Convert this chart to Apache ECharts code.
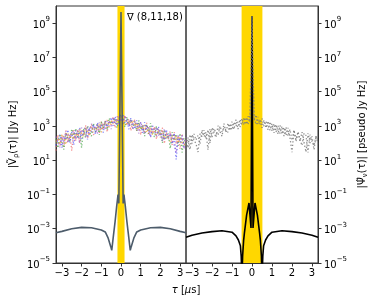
<!DOCTYPE html>
<html><head><meta charset="utf-8">
<script src="https://cdn.jsdelivr.net/npm/echarts@6/dist/echarts.min.js"></script>
<style>html,body{margin:0;padding:0;background:#fff}#c{width:374px;height:299px}</style>
</head><body><div id="c"></div>
<script>
// ---- data ----
const xTicks = [-3, -2, -1, 0, 1, 2, 3];
const yTickExp = [-5, -3, -1, 1, 3, 5, 7, 9];
const bandLeft = [-0.18, 0.18];
const bandRight = [-0.52, 0.52];
const annotation = '\u2207 (8,11,18)';

// left solid model line (Jy Hz)
const tauModelL = [-3.3,-3.0,-2.5,-2.0,-1.5,-1.0,-0.8,-0.65,-0.52,-0.47,-0.39,-0.3,-0.22,-0.15,-0.11,0,0.11,0.15,0.22,0.3,0.39,0.47,0.52,0.65,0.8,1.0,1.5,2.0,2.5,3.0,3.3];
const valModelL = [5.8e-4,7e-4,1e-3,1.2e-3,1.15e-3,8.5e-4,6.5e-4,2.8e-4,9e-5,5.5e-5,3.5e-4,2.6e-3,2e-2,1e-1,3e-2,4.5e9,3e-2,1e-1,2e-2,2.6e-3,3.5e-4,5.5e-5,9e-5,2.8e-4,6.5e-4,8.5e-4,1.15e-3,1.2e-3,1e-3,7e-4,5.8e-4];

// right solid model line (pseudo Jy Hz)
const tauModelR = [-3.3,-3.0,-2.5,-2.0,-1.5,-1.0,-0.8,-0.68,-0.58,-0.54,-0.5,-0.47,-0.42,-0.38,-0.27,-0.15,-0.1,-0.05,0,0.05,0.1,0.15,0.27,0.38,0.42,0.47,0.5,0.54,0.58,0.68,0.8,1.0,1.5,2.0,2.5,3.0,3.3];
const valModelR = [3.2e-4,4.2e-4,5.6e-4,6.8e-4,7.6e-4,6.3e-4,3.8e-4,2.2e-4,1e-4,2.5e-5,1e-6,2.5e-5,2e-4,5.5e-4,6.3e-3,3.2e-2,6e-3,1.1e-3,2.5e9,1.1e-3,6e-3,3.2e-2,6.3e-3,5.5e-4,2e-4,2.5e-5,1e-6,2.5e-5,1e-4,2.2e-4,3.8e-4,6.3e-4,7.6e-4,6.8e-4,5.6e-4,4.2e-4,3.2e-4];

// delay grid of the noisy visibilities
const tauNoise = [
-3.3,-3.2,-3.1,-3.0,-2.9,-2.8,-2.7,-2.6,-2.5,-2.4,
-2.3,-2.2,-2.1,-2.0,-1.9,-1.8,-1.7,-1.6,-1.5,-1.4,
-1.3,-1.2,-1.1,-1.0,-0.9,-0.8,-0.7,-0.6,-0.5,-0.4,
-0.3,-0.2,-0.1,0,0.1,0.2,0.3,0.4,0.5,0.6,
0.7,0.8,0.9,1.0,1.1,1.2,1.3,1.4,1.5,1.6,
1.7,1.8,1.9,2.0,2.1,2.2,2.3,2.4,2.5,2.6,
2.7,2.8,2.9,3.0,3.1,3.2,3.3];

const visRed = [
36,325,70,280,60,555,120,330,36,570,
140,620,100,540,315,1075,185,610,1230,300,
400,1300,390,1870,640,2000,440,2040,1170,3550,
775,2720,4070,3000,1110,4250,1085,2560,520,1680,
2200,500,1560,300,1090,430,1520,300,840,360,
930,170,710,215,800,93,430,210,480,77,
440,92,255,46,350,78,144];
const visGreen = [
180,52,336,108,42,370,200,110,670,210,
710,186,470,54,710,215,1020,460,250,1440,
460,1150,310,1790,740,1900,600,2880,1300,2130,
2790,765,2400,4800,2960,850,3400,1140,2470,720,
1760,500,2100,600,1010,250,1250,360,1460,410,
230,950,320,580,100,590,170,360,48,440,
140,333,68,370,28,195,72];
const visBlue = [
72,170,310,54,255,150,600,110,430,78,
540,220,800,180,475,860,163,870,450,1260,
330,1580,700,1190,410,2100,880,1560,3120,1000,
3560,1020,3150,2200,4800,1530,2330,640,2860,1440,
660,2100,740,1530,390,1660,600,960,220,1020,
650,260,900,250,500,155,600,210,380,88,
380,11,200,140,280,65,48];
const visPurple = [
240,117,56,250,120,480,100,265,215,520,
170,500,100,790,395,215,880,357,1340,660,
990,360,1560,680,1470,600,2090,1320,650,3270,
1240,3570,1110,3400,1670,3900,1860,1000,2470,600,
1980,1200,370,1700,780,360,1120,540,225,970,
420,860,280,470,135,680,285,155,360,200,
160,28,320,110,210,45,215];
const visOrange = [
120,220,84,325,205,83,380,175,335,155,
370,250,670,360,237,775,510,255,900,540,
790,575,1400,425,1290,1000,2200,840,1950,1280,
2330,1700,3700,3800,2220,2720,1240,2000,1300,2160,
990,1500,645,1020,625,1150,400,780,505,305,
700,300,475,325,535,185,315,365,120,265,
160,260,100,230,112,130,66];

const pseudoA = [
84,210,42,310,150,92,30,350,240,570,
170,590,100,790,435,215,1020,460,250,1380,
400,1440,545,1790,640,2300,660,2400,1170,3120,
1240,3740,1670,2.5e9,2040,4420,1240,2270,780,2160,
770,1900,550,1360,390,1220,330,1080,335,815,
280,775,200,29,570,155,455,130,430,110,
30,370,100,250,42,260,96];
const pseudoB = [
190,52,310,93,340,150,280,88,575,235,
430,40,670,215,710,385,280,970,450,780,
990,430,1330,595,1660,1000,1760,840,2730,1140,
3100,1190,4250,2.5e9,3330,1190,3410,1280,2730,960,
1870,600,1750,510,1330,430,1060,360,950,255,
840,260,630,144,570,124,455,156,72,375,
280,28,305,124,70,250,132];

// ---- chart ----
const FONT = 'DejaVu Sans';
const lg = v => Math.log10(v);
const pairs = (t, v) => t.map((x, i) => [x, lg(v[i])]);
const minus = v => (v < 0 ? '\u2212' + Math.abs(v) : '' + v);
const richY = {
  b: {fontSize: 10, fontFamily: FONT, color: '#000', lineHeight: 14, verticalAlign: 'bottom'},
  s: {fontSize: 7, fontFamily: FONT, color: '#000', lineHeight: 9, verticalAlign: 'top'}
};
const richName = {
  sub: {fontSize: 7, fontFamily: FONT, color: '#000', lineHeight: 13, verticalAlign: 'bottom'}
};
const supLabel = v => '{b|10}{s|' + minus(Math.round(v)) + '}';

function xAxisCfg(gi) {
  return {
    type: 'value', gridIndex: gi, min: -3.3, max: 3.3,
    axisLine: {show: true, onZero: false, lineStyle: {color: '#333', width: 1}},
    axisTick: {show: true, customValues: xTicks, length: 3.5, lineStyle: {color: '#333'}},
    axisLabel: {customValues: xTicks, formatter: v => minus(v), fontSize: 10, fontFamily: FONT, color: '#000', margin: 5},
    splitLine: {show: false}
  };
}
function yAxisCfg(gi, pos, name) {
  return {
    type: 'value', gridIndex: gi, min: -5, max: 10, position: pos,
    name: name, nameLocation: 'middle', nameRotate: 90, nameGap: pos === 'left' ? 36 : 38,
    nameTextStyle: {fontSize: 10, fontFamily: FONT, color: '#000', rich: richName},
    axisLine: {show: true, onZero: false, lineStyle: {color: '#333', width: 1}},
    axisTick: {show: true, customValues: yTickExp, length: 3.5, lineStyle: {color: '#333'}},
    axisLabel: {customValues: yTickExp, formatter: supLabel, rich: richY, margin: 6},
    splitLine: {show: false}
  };
}
function noise(gi, t, v, color, z, op) {
  return {
    type: 'line', xAxisIndex: gi, yAxisIndex: gi, data: pairs(t, v), symbol: 'none',
    lineStyle: {width: 1.3, type: [1.3, 2.2], color: color, opacity: op}, z: z, silent: true
  };
}
function band(gi, b) {
  return {
    type: 'line', xAxisIndex: gi, yAxisIndex: gi, data: [[0, -20], [0.01, -20]], symbol: 'none',
    lineStyle: {width: 0, opacity: 0}, z: 1, silent: true,
    markArea: {silent: true, itemStyle: {color: '#FFD700', opacity: 1}, data: [[{xAxis: b[0]}, {xAxis: b[1]}]]}
  };
}

const option = {
  animation: false,
  grid: [
    {left: 56, top: 6, width: 130, height: 257, show: true, borderColor: '#333', borderWidth: 1},
    {left: 186, top: 6, width: 132, height: 257, show: true, borderColor: '#333', borderWidth: 1}
  ],
  xAxis: [xAxisCfg(0), xAxisCfg(1)],
  yAxis: [
    yAxisCfg(0, 'left', '|\u1E7C{sub|\u03C1}(\u03C4)| [Jy Hz]'),
    yAxisCfg(1, 'right', '|\u03A8\u0303{sub|\u03BD}(\u03C4)| [pseudo Jy Hz]')
  ],
  graphic: [
    {type: 'text', x: 127, y: 17, silent: true, style: {text: annotation, font: '10px "DejaVu Sans"', fill: '#000', textAlign: 'left', textVerticalAlign: 'middle'}},
    {type: 'text', x: 186, y: 290, silent: true, style: {
      text: '{i|\u03C4} [{i|\u03BC}s]', font: '10px "DejaVu Sans"', fill: '#000', textAlign: 'center', textVerticalAlign: 'middle',
      rich: {i: {fontStyle: 'italic', fontSize: 10, fontFamily: FONT, fill: '#000'}}
    }}
  ],
  series: [
    band(0, bandLeft),
    band(1, bandRight),
    noise(0, tauNoise, visRed, '#f06a6a', 3, 0.75),
    noise(0, tauNoise, visGreen, '#4aa64a', 3, 0.75),
    noise(0, tauNoise, visBlue, '#5a5af5', 3, 0.75),
    noise(0, tauNoise, visPurple, '#9a5fd0', 3, 0.75),
    noise(0, tauNoise, visOrange, '#f2a640', 3, 0.75),
    {type: 'line', xAxisIndex: 0, yAxisIndex: 0, data: pairs(tauModelL, valModelL), symbol: 'none',
     lineStyle: {width: 1.6, color: '#4d5c6b'}, z: 5, silent: true},
    {type: 'line', xAxisIndex: 1, yAxisIndex: 1, data: pairs(tauModelR, valModelR), symbol: 'none',
     lineStyle: {width: 1.6, color: '#000'}, z: 3, silent: true},
    noise(1, tauNoise, pseudoA, '#777777', 4, 0.85),
    noise(1, tauNoise, pseudoB, '#808080', 4, 0.85)
  ]
};
const chart = echarts.init(document.getElementById('c'), null, {renderer: 'canvas'});
chart.setOption(option);
</script>
</body></html>
